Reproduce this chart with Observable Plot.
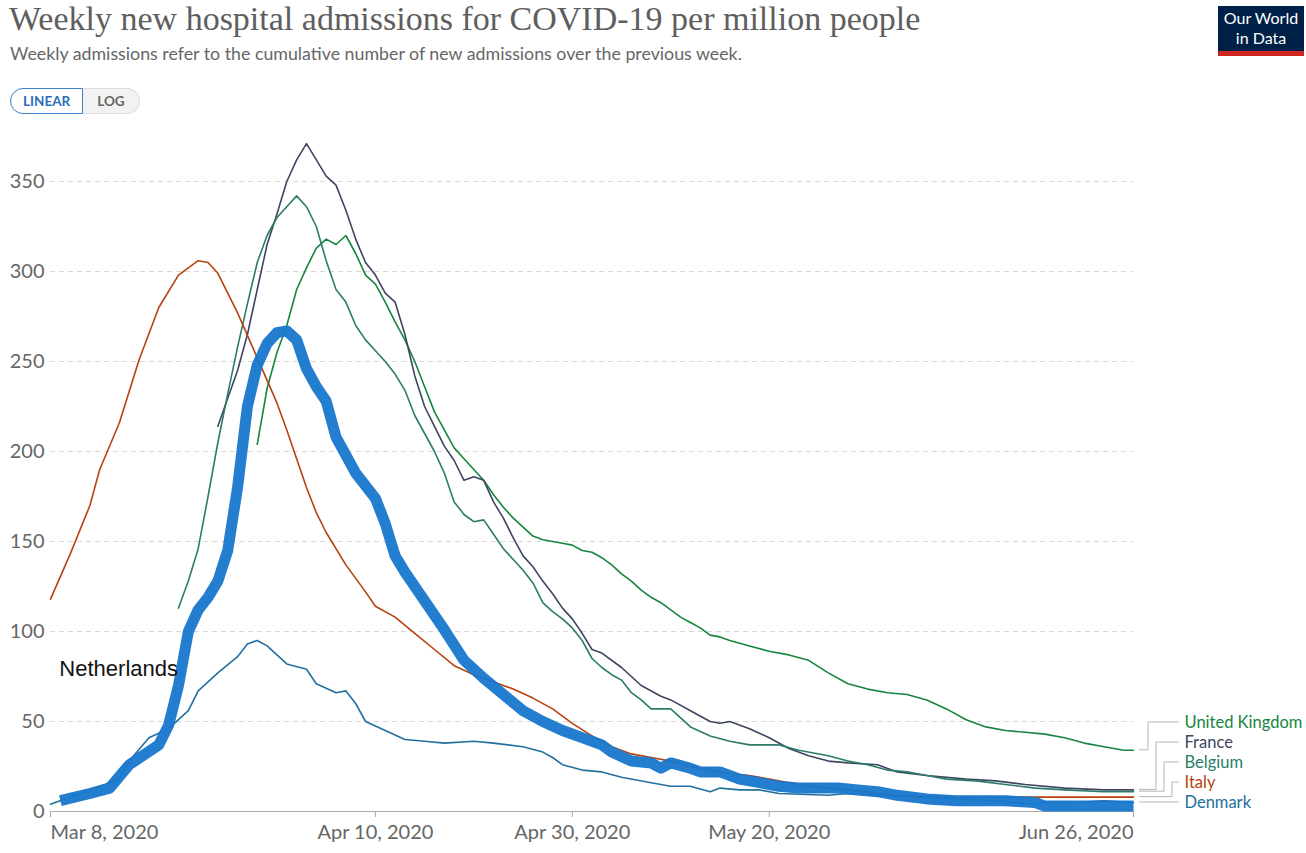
<!DOCTYPE html>
<html><head><meta charset="utf-8">
<script src="https://cdn.jsdelivr.net/npm/d3@7"></script>
<script src="https://cdn.jsdelivr.net/npm/@observablehq/plot@0.6"></script>
<style>
body{margin:0;background:#fff;width:1306px;height:853px;overflow:hidden;position:relative;font-family:Lato,sans-serif;}
#title{position:absolute;left:9px;top:0px;font-family:"Liberation Serif",serif;font-size:34px;color:#5e5e5e;white-space:nowrap;letter-spacing:0px;}
#subtitle{position:absolute;left:10px;top:42px;font-size:17.8px;color:#666;white-space:nowrap;}
#btns{position:absolute;left:10px;top:88px;display:flex;font-size:13.5px;font-weight:bold;}
#btns div{line-height:24px;padding:0 12px;box-sizing:border-box;}
#lin{border:1px solid #3a7fc8;color:#2a6fb8;border-radius:13px 0 0 13px;height:26px;}
#log{border:1px solid #ddd;border-left:none;background:#f2f2f2;color:#666;border-radius:0 13px 13px 0;height:26px;padding:0 14px!important;}
#logo{position:absolute;left:1218px;top:6px;width:86px;height:43px;background:#002147;color:#fff;font-size:16px;line-height:20px;text-align:center;padding-top:2px;box-sizing:content-box;border-bottom:5px solid #ce261e;}
#chart{position:absolute;left:0;top:120px;}
</style></head>
<body>
<div id="title">Weekly new hospital admissions for COVID-19 per million people</div>
<div id="subtitle">Weekly admissions refer to the cumulative number of new admissions over the previous week.</div>
<div id="btns"><div id="lin">LINEAR</div><div id="log">LOG</div></div>
<div id="logo">Our World<br>in Data</div>
<div id="chart"></div>
<script>
// ---- data (2020, "MM-DD", admissions per million) ----
const italy = [["03-08",118],["03-10",143],["03-12",170],["03-13",190],["03-15",216],["03-17",251],["03-19",280],["03-21",298],["03-23",306],["03-24",305],["03-25",299],["03-27",277],["03-29",252],["03-31",227],["04-01",212],["04-02",196],["04-03",180],["04-04",166],["04-05",155],["04-07",137],["04-09",122],["04-10",114],["04-12",108],["04-14",99],["04-16",90],["04-18",81],["04-20",76],["04-22",72],["04-24",68],["04-26",63],["04-28",57],["04-30",49],["05-02",42],["05-04",36],["05-06",32],["05-08",30],["05-10",28],["05-12",25],["05-14",23],["05-16",21],["05-18",20],["05-20",18],["05-22",16],["05-24",14],["05-28",12],["06-02",9],["06-07",8],["06-12",8],["06-17",8],["06-22",8],["06-26",8]];
const france = [["03-25",214],["03-27",245],["03-28",265],["03-29",290],["03-30",315],["03-31",332],["04-01",350],["04-02",362],["04-03",371],["04-04",362],["04-05",353],["04-06",348],["04-07",334],["04-08",318],["04-09",305],["04-10",298],["04-11",288],["04-12",283],["04-13",265],["04-14",242],["04-15",225],["04-16",214],["04-17",203],["04-18",195],["04-19",184],["04-20",186],["04-21",184],["04-22",172],["04-23",163],["04-24",152],["04-25",142],["04-26",136],["04-27",128],["04-28",121],["04-29",113],["04-30",107],["05-01",99],["05-02",90],["05-03",88],["05-05",80],["05-07",70],["05-09",64],["05-10",62],["05-12",56],["05-14",50],["05-15",49],["05-16",50],["05-18",46],["05-20",41],["05-22",35],["05-24",31],["05-26",28],["05-28",27],["05-31",26],["06-02",22],["06-05",20],["06-09",18],["06-12",17],["06-15",15],["06-19",13],["06-23",12],["06-26",12]];
const belgium = [["03-21",113],["03-22",128],["03-23",146],["03-24",175],["03-25",205],["03-26",232],["03-27",258],["03-28",282],["03-29",305],["03-30",320],["03-31",330],["04-01",336],["04-02",342],["04-03",336],["04-04",325],["04-05",306],["04-06",290],["04-07",283],["04-08",270],["04-09",262],["04-10",256],["04-11",250],["04-12",243],["04-13",234],["04-14",220],["04-15",210],["04-16",200],["04-17",188],["04-18",172],["04-19",165],["04-20",161],["04-21",162],["04-22",154],["04-23",146],["04-24",140],["04-25",134],["04-26",127],["04-27",116],["04-28",111],["04-29",107],["04-30",102],["05-01",95],["05-02",85],["05-03",80],["05-04",76],["05-05",73],["05-06",66],["05-07",62],["05-08",57],["05-10",57],["05-11",52],["05-12",47],["05-14",42],["05-16",39],["05-18",37],["05-21",37],["05-23",34],["05-26",31],["05-28",28],["05-30",26],["06-01",23],["06-03",22],["06-05",20],["06-07",18],["06-10",17],["06-13",15],["06-16",13],["06-19",12],["06-23",11],["06-26",11]];
const unitedKingdom = [["03-29",204],["03-30",235],["03-31",255],["04-01",270],["04-02",290],["04-03",302],["04-04",313],["04-05",318],["04-06",315],["04-07",320],["04-08",310],["04-09",298],["04-10",293],["04-11",283],["04-12",272],["04-13",262],["04-14",250],["04-15",236],["04-16",222],["04-17",212],["04-18",202],["04-19",196],["04-20",190],["04-21",184],["04-22",176],["04-23",169],["04-24",163],["04-25",158],["04-26",153],["04-27",151],["04-28",150],["04-29",149],["04-30",148],["05-01",145],["05-02",144],["05-03",141],["05-04",137],["05-05",132],["05-06",128],["05-07",123],["05-08",119],["05-09",116],["05-10",112],["05-11",108],["05-12",105],["05-13",102],["05-14",98],["05-15",97],["05-16",95],["05-18",92],["05-20",89],["05-22",87],["05-24",84],["05-26",77],["05-28",71],["05-30",68],["06-01",66],["06-03",65],["06-05",62],["06-07",57],["06-09",51],["06-11",47],["06-13",45],["06-15",44],["06-17",43],["06-19",41],["06-21",38],["06-23",36],["06-25",34],["06-26",34]];
const denmark = [["03-08",4],["03-10",8],["03-12",12],["03-15",18],["03-16",28],["03-18",41],["03-20",46],["03-22",56],["03-23",67],["03-25",77],["03-27",86],["03-28",93],["03-29",95],["03-30",92],["04-01",82],["04-03",79],["04-04",71],["04-06",66],["04-07",67],["04-08",60],["04-09",50],["04-11",45],["04-13",40],["04-15",39],["04-17",38],["04-20",39],["04-22",38],["04-25",36],["04-27",33],["04-28",30],["04-29",26],["05-01",23],["05-03",22],["05-05",19],["05-08",16],["05-10",14],["05-12",14],["05-14",11],["05-15",13],["05-17",12],["05-19",12],["05-21",10],["05-26",9],["05-28",10],["05-31",9],["06-04",8],["06-08",7],["06-12",6],["06-16",4],["06-17",5],["06-20",5],["06-23",6],["06-26",5]];
const netherlands = [["03-09",6],["03-12",10],["03-14",13],["03-16",26],["03-19",37],["03-20",48],["03-21",70],["03-22",100],["03-23",112],["03-24",119],["03-25",128],["03-26",145],["03-27",180],["03-28",225],["03-29",248],["03-30",260],["03-31",266],["04-01",267],["04-02",262],["04-03",246],["04-04",236],["04-05",228],["04-06",208],["04-07",198],["04-08",188],["04-10",174],["04-11",160],["04-12",142],["04-13",133],["04-15",117],["04-17",101],["04-19",84],["04-21",74],["04-23",65],["04-25",56],["04-27",50],["04-29",45],["05-01",41],["05-03",37],["05-04",33],["05-06",28],["05-08",27],["05-09",24],["05-10",27],["05-12",24],["05-13",22],["05-15",22],["05-17",18],["05-19",16],["05-21",14],["05-23",13],["05-27",13],["05-29",12],["05-31",11],["06-02",9],["06-05",7],["06-08",6],["06-13",6],["06-16",5],["06-17",3],["06-26",3]];

const countries = ["United Kingdom","France","Belgium","Italy","Denmark"];
const countrySeries = [unitedKingdom, france, belgium, italy, denmark];
const countryColors = ["#16853f","#3d4661","#2b7c68","#b8410f","#23709f"];
const highlightName = "Netherlands";
const highlightColor = "#1877cc";
const xTickDates = ["2020-03-08","2020-04-10","2020-04-30","2020-05-20","2020-06-26"];
const xTickLabels = ["Mar 8, 2020","Apr 10, 2020","Apr 30, 2020","May 20, 2020","Jun 26, 2020"];
const yTicks = [0,50,100,150,200,250,300,350];
const annotation = {text: "Netherlands", date: "2020-03-09", value: 79};
const xDomain = ["2020-03-08","2020-06-26"];
const yDomain = [0, 375];

// ---- build ----
const parse = md => new Date("2020-" + md + "T00:00:00Z");
const rows = [];
countrySeries.forEach((s, i) => s.forEach(([d, v]) => rows.push({country: countries[i], date: parse(d), value: v})));
const nlRows = netherlands.map(([d, v]) => ({country: highlightName, date: parse(d), value: v}));

const W = 1306, H = 733, mT = 16, mB = 42, mL = 50, mR = 173;
const innerH = H - mT - mB;
const unitsPerPx = (yDomain[1] - yDomain[0]) / innerH;
const endDate = new Date(xDomain[1] + "T00:00:00Z");

// label dodge (bottom-up, 20px spacing)
const labels = countries.map((c, i) => ({country: c, color: countryColors[i], last: countrySeries[i][countrySeries[i].length - 1][1]}));
const byLast = labels.slice().sort((a, b) => a.last - b.last);
let prev = -Infinity;
for (const l of byLast) { l.labelY = Math.max(l.last, prev + 20 * unitsPerPx); prev = l.labelY; }
byLast.forEach(l => l.rank = byLast.length - 1 - byLast.indexOf(l)); // 0 = top

function connectors(index, scales) {
  const g = d3.create("svg:g").attr("fill", "none").attr("stroke", "#b5b5b5").attr("stroke-width", 1);
  const x0 = scales.x(endDate);
  for (const l of labels) {
    const y1 = scales.y(l.last), y2 = scales.y(l.labelY);
    const elbow = x0 + 15 + 8 * l.rank;
    const path = Math.abs(y1 - y2) < 1
      ? `M${x0 + 6},${y1}H${x0 + 46}`
      : `M${x0 + 6},${y1}H${elbow}V${y2}H${x0 + 46}`;
    g.append("path").attr("d", path);
  }
  return g.node();
}

const tickObjs = xTickDates.map((d, i) => ({date: new Date(d + "T00:00:00Z"), label: xTickLabels[i]}));
const tickFont = 20;

const chart = Plot.plot({
  width: W, height: H, marginTop: mT, marginBottom: mB, marginLeft: mL, marginRight: mR,
  style: {fontFamily: "Lato, sans-serif", background: "transparent"},
  x: {type: "utc", domain: xDomain.map(d => new Date(d + "T00:00:00Z"))},
  y: {domain: yDomain},
  marks: [
    Plot.gridY(yTicks.filter(t => t > 0), {stroke: "#d8d8d8", strokeOpacity: 1, strokeDasharray: "5,4"}),
    Plot.axisY(yTicks, {tickSize: 0, tickPadding: 6, fontSize: tickFont, fill: "#666", textAnchor: "end"}),
    Plot.ruleY([0], {stroke: "#aaa"}),
    Plot.axisX(tickObjs.map(t => t.date), {tickSize: 6, stroke: "#aaa", tickFormat: () => "", label: null}),
    Plot.text(tickObjs.slice(0, 1), {x: "date", text: "label", frameAnchor: "bottom", dy: 27, textAnchor: "start", fontSize: tickFont, fill: "#666"}),
    Plot.text(tickObjs.slice(1, -1), {x: "date", text: "label", frameAnchor: "bottom", dy: 27, textAnchor: "middle", fontSize: tickFont, fill: "#666"}),
    Plot.text(tickObjs.slice(-1), {x: "date", text: "label", frameAnchor: "bottom", dy: 27, textAnchor: "end", fontSize: tickFont, fill: "#666"}),
    Plot.line(rows, {x: "date", y: "value", z: "country", stroke: d => countryColors[countries.indexOf(d.country)], strokeWidth: 1.6}),
    Plot.line(nlRows, {x: "date", y: "value", stroke: highlightColor, strokeWidth: 11, strokeLinejoin: "round", strokeLinecap: "butt", strokeOpacity: 0.95}),
    Plot.text([annotation], {x: d => new Date(d.date + "T00:00:00Z"), y: "value", text: "text", textAnchor: "start", fontSize: 22, fill: "#111", fontFamily: "Liberation Sans, sans-serif", dx: -1}),
    connectors,
    Plot.text(labels, {x: () => endDate, y: "labelY", text: "country", fill: "color", dx: 51, textAnchor: "start", fontSize: 16.5})
  ]
});
// soften the brush-like highlighted line a little
chart.querySelectorAll("g[stroke]").forEach(g => { if (g.getAttribute("stroke") === highlightColor) g.style.filter = "blur(0.7px)"; });
document.getElementById("chart").appendChild(chart);
</script>
</body></html>
